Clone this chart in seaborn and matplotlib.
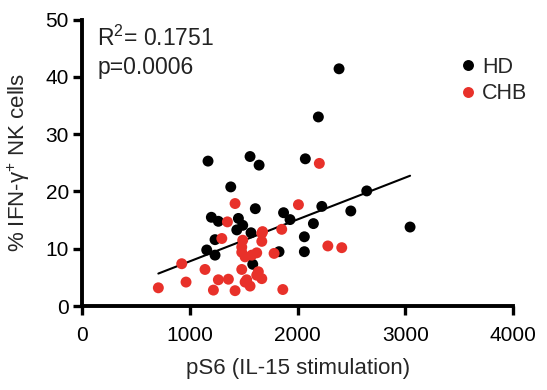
import seaborn as sns
import matplotlib.pyplot as plt
import pandas as pd

# values (x = pS6 MFI, y = % IFN-g+ NK cells)
hd_x = [2385, 2193, 1559, 1643, 2072, 1169, 2642, 1380, 1608, 1200,
        1265, 1451, 1491, 1870, 2225, 2494, 1930, 2147, 1436, 1568,
        2063, 1234, 3044, 1157, 1234, 1828, 2063, 1584]
hd_y = [41.4, 33.0, 26.1, 24.6, 25.7, 25.3, 20.1, 20.8, 17.0, 15.5,
        14.8, 15.3, 14.1, 16.3, 17.4, 16.6, 15.1, 14.4, 13.3, 12.8,
        12.1, 11.6, 13.8, 9.8, 8.9, 9.5, 9.5, 7.3]
chb_x = [1420, 2202, 1349, 1675, 2008, 1853, 1297, 1491, 1668, 2281,
         2410, 1482, 1482, 1621, 1782, 1513, 1575, 1141, 1482, 1636,
         1668, 1265, 1358, 1528, 1559, 1219, 1420, 1863, 925, 708,
         965, 1621, 1513, 1668]
chb_y = [17.9, 24.9, 14.7, 13.0, 17.7, 13.4, 11.8, 11.5, 11.3, 10.5,
         10.2, 10.3, 9.4, 9.3, 9.2, 8.6, 8.9, 6.4, 6.4, 6.0,
         4.8, 4.6, 4.7, 4.6, 3.5, 2.8, 2.7, 2.9, 7.4, 3.2,
         4.2, 5.4, 4.2, 12.7]

groups = ["HD", "CHB"]
colours = {"HD": "black", "CHB": "#e8312a"}
x_ticks = [0, 1000, 2000, 3000, 4000]
y_ticks = [0, 10, 20, 30, 40, 50]

df = pd.DataFrame({
    "pS6": hd_x + chb_x,
    "ifng": hd_y + chb_y,
    "group": ["HD"] * len(hd_x) + ["CHB"] * len(chb_x),
})

sns.set_style("ticks")
plt.rcParams["font.family"] = ["Liberation Sans", "DejaVu Sans"]
plt.rcParams["mathtext.default"] = "regular"

fig = plt.figure(figsize=(5.47, 3.9), dpi=100)
ax = fig.add_axes([0.150, 0.215, 0.788, 0.735])

sns.scatterplot(data=df, x="pS6", y="ifng", hue="group", hue_order=groups,
                palette=colours, s=62, edgecolor="none", ax=ax, zorder=3)
#regression over all donors
sns.regplot(data=df, x="pS6", y="ifng", scatter=False, ci=None,
            color="black", line_kws={"lw": 1.5}, ax=ax)

ax.set_xlim(0, 4000)
ax.set_ylim(0, 50)
ax.set_xticks(x_ticks)
ax.set_yticks(y_ticks)
ax.tick_params(labelsize=15, length=6.5, width=2.4, direction="out",
               colors="black")
ax.tick_params(axis="x", pad=8)
ax.tick_params(axis="y", pad=3)
for side in ["left", "bottom"]:
    ax.spines[side].set_linewidth(2.8)
    ax.spines[side].set_color("black")
sns.despine(ax=ax)

ax.set_xlabel("pS6 (IL-15 stimulation)", fontsize=16, labelpad=9)
ax.set_ylabel("% IFN-γ$^{+}$ NK cells", fontsize=16, labelpad=10)

ax.text(0.035, 0.978, "R$^2$= 0.1751", transform=ax.transAxes, fontsize=16.5,
        va="top", color="#222222")
ax.text(0.035, 0.872, "p=0.0006", transform=ax.transAxes, fontsize=16.5,
        va="top", color="#222222")

ax.legend(frameon=False, loc="upper left", bbox_to_anchor=(0.851, 0.9),
          fontsize=15.5, handlelength=1, handletextpad=0.15, labelspacing=0.25,
          borderaxespad=0, markerscale=1)

plt.savefig("out.png", dpi=100)
